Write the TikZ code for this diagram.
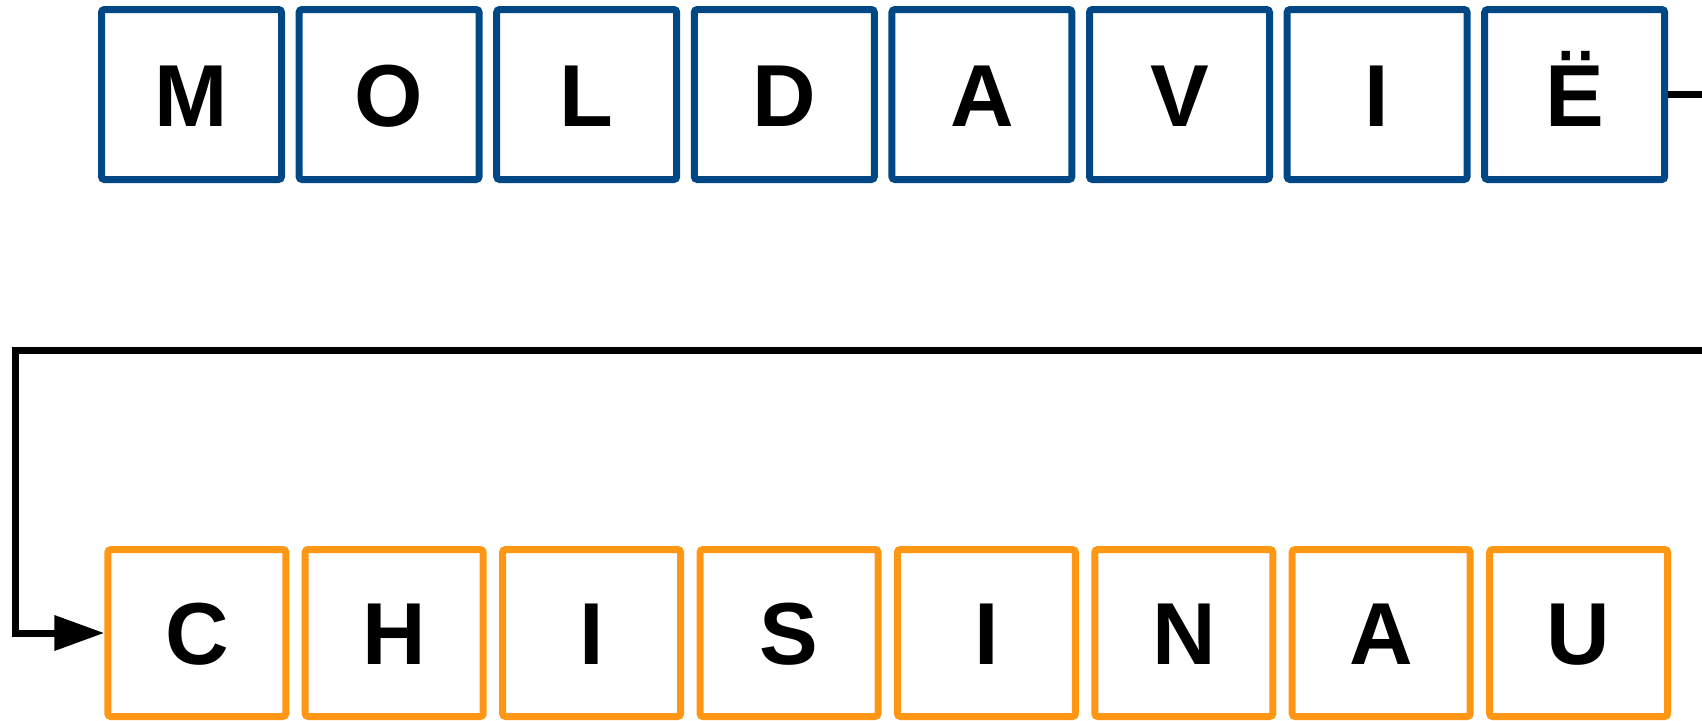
\documentclass[tikz,border=0pt]{standalone}
\usepackage{fontspec}
\setmainfont{Liberation Sans}
\usetikzlibrary{arrows.meta}
\definecolor{boxblue}{RGB}{0,71,133}
\definecolor{boxorange}{RGB}{255,150,20}
\begin{document}
\begin{tikzpicture}[x=1pt,y=1pt,
  lbox/.style={draw, line width=7pt, rounded corners=3pt, inner sep=0pt, text=black,
    font=\fontsize{88}{88}\selectfont\bfseries, text height=63pt, text depth=0pt},
  topbox/.style={lbox, boxblue, minimum width=180pt, minimum height=170pt},
  botbox/.style={lbox, boxorange, minimum width=178pt, minimum height=167pt},
  conn/.style={line width=7pt, black}]
\useasboundingbox (0,0) rectangle (1702,-720);
\clip (0,0) rectangle (1702,-720);
\foreach \l [count=\i] in {M,O,L,D,A,V,I,Ë}
  {\node[topbox, text=black] (t\i) at ({191.5+(\i-1)*197.6},-94.5) {\l};}
\foreach \l [count=\i] in {C,H,I,S,I,N,A,U}
  {\node[botbox, text=black] (b\i) at ({196.8+(\i-1)*197.4},-633) {\l};}
\coordinate (turnR) at (1730,-350);
\coordinate (turnL) at (15,-350);
\draw[conn, -{Triangle[length=50pt,width=34pt]}] (t8.east) -| (turnR) -- (turnL) |- (b1.west);
\end{tikzpicture}
\end{document}
